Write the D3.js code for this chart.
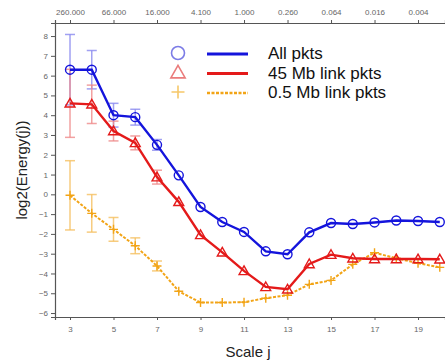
<!DOCTYPE html>
<html>
<head>
<meta charset="utf-8">
<script src="https://cdn.jsdelivr.net/npm/d3@7"></script>
<style>
  html, body { margin: 0; padding: 0; background: #fff; }
  svg { display: block; font-family: "Liberation Sans", Arial, sans-serif; }
</style>
</head>
<body>
<div id="chart"></div>
<script>
// scale index j and the three curves
const scales = [3, 4, 5, 6, 7, 8, 9, 10, 11, 12, 13, 14, 15, 16, 17, 18, 19, 20];
const allPkts = [6.3, 6.3, 4.0, 3.9, 2.5, 0.96, -0.64, -1.4, -1.9, -2.88, -3.03, -1.92, -1.45, -1.5, -1.42, -1.32, -1.35, -1.4];
const allErr = [1.78, 0.97, 0.6, 0.4, 0.27, 0, 0, 0, 0, 0, 0, 0, 0, 0, 0, 0, 0, 0];
const link45 = [4.6, 4.55, 3.2, 2.6, 0.87, -0.38, -2.05, -2.93, -3.87, -4.68, -4.8, -3.52, -3.05, -3.23, -3.27, -3.27, -3.27, -3.28];
const link45Err = [1.72, 0.97, 0.5, 0.35, 0.35, 0, 0, 0, 0, 0, 0, 0, 0, 0, 0, 0, 0, 0];
const link05 = [-0.05, -0.96, -1.77, -2.6, -3.62, -4.9, -5.47, -5.47, -5.45, -5.25, -5.1, -4.55, -4.35, -3.54, -2.95, -3.23, -3.48, -3.69];
const link05Err = [1.75, 0.95, 0.6, 0.4, 0.25, 0, 0, 0, 0, 0, 0, 0, 0, 0, 0, 0, 0, 0];

const bottomTicks = [3, 5, 7, 9, 11, 13, 15, 17, 19];
const topLabels = ["260.000", "66.000", "16.000", "4.100", "1.000", "0.260", "0.064", "0.016", "0.004"];
const yTicks = [-6, -5, -4, -3, -2, -1, 0, 1, 2, 3, 4, 5, 6, 7, 8];
const legendNames = ["All pkts", "45 Mb link pkts", "0.5 Mb link pkts"];

const width = 445, height = 362;
const plotLeft = 55, plotTop = 23, plotBottom = 317;

const svg = d3.select("#chart").append("svg")
  .attr("width", width)
  .attr("height", height);

const x = d3.scaleLinear().domain([2.31, 20.24]).range([plotLeft, width]);
const y = d3.scaleLinear().domain([-6.2, 8.66]).range([plotBottom, plotTop]);

const axisColor = "#555";

// axes
const gx = svg.append("g")
  .attr("transform", `translate(0,${plotBottom})`)
  .call(d3.axisBottom(x).tickValues(bottomTicks).tickSize(3).tickPadding(6).tickFormat(d3.format("d")));

const gxTop = svg.append("g")
  .attr("transform", `translate(0,${plotTop})`)
  .call(d3.axisTop(x).tickValues(bottomTicks).tickSize(3).tickPadding(5)
    .tickFormat((d, i) => topLabels[i]));

const gy = svg.append("g")
  .attr("transform", `translate(${plotLeft},0)`)
  .call(d3.axisLeft(y).tickValues(yTicks).tickSize(4).tickPadding(3).tickFormat(d3.format("d")));

[gx, gxTop, gy].forEach(g => {
  g.selectAll(".domain").attr("stroke", axisColor).attr("stroke-width", 1.2);
  g.selectAll(".tick line").attr("stroke", axisColor);
  g.selectAll(".tick text").attr("fill", "#666").style("font-size", "8px");
});

// axis titles
svg.append("text")
  .attr("x", 248).attr("y", 357)
  .attr("text-anchor", "middle")
  .style("font-size", "15px").attr("fill", "#222")
  .text("Scale j");

svg.append("text")
  .attr("transform", "translate(27,170) rotate(-90)")
  .attr("text-anchor", "middle")
  .style("font-size", "15px").attr("fill", "#222")
  .text("log2(Energy(j))");

const series = [
  { name: legendNames[0], vals: allPkts, err: allErr, color: "#1414dc", light: "#7c7ce6", errColor: "#8a8af0", marker: "circle", dash: null, lw: 2.4 },
  { name: legendNames[1], vals: link45, err: link45Err, color: "#e41a1a", light: "#ea7c7c", errColor: "#ef8a8a", marker: "triangle", dash: null, lw: 2.4 },
  { name: legendNames[2], vals: link05, err: link05Err, color: "#f2a416", light: "#f6c86a", errColor: "#f6c060", marker: "plus", dash: "3,1.5", lw: 2 }
];

const line = d3.line().x(d => x(d.j)).y(d => y(d.v));

function drawMarker(g, type, cx, cy, size, color, sw) {
  if (type === "circle") {
    g.append("circle").attr("cx", cx).attr("cy", cy).attr("r", size)
      .attr("fill", "none").attr("stroke", color).attr("stroke-width", sw);
  } else if (type === "triangle") {
    const s = size * 1.1;
    g.append("path")
      .attr("d", `M${cx},${cy - s}L${cx + s},${cy + s * 0.75}L${cx - s},${cy + s * 0.75}Z`)
      .attr("fill", "none").attr("stroke", color).attr("stroke-width", sw);
  } else {
    g.append("path")
      .attr("d", `M${cx - size},${cy}H${cx + size}M${cx},${cy - size}V${cy + size}`)
      .attr("fill", "none").attr("stroke", color).attr("stroke-width", sw);
  }
}

// error bars first, drawn lighter
series.forEach(s => {
  const g = svg.append("g");
  scales.forEach((j, i) => {
    const e = s.err[i];
    if (!e) return;
    const cx = x(j), y1 = y(s.vals[i] + e), y2 = y(s.vals[i] - e);
    g.append("line").attr("x1", cx).attr("x2", cx).attr("y1", y1).attr("y2", y2)
      .attr("stroke", s.errColor).attr("stroke-width", 1.5).attr("opacity", 0.8);
    [y1, y2].forEach(yy => g.append("line")
      .attr("x1", cx - 5).attr("x2", cx + 5).attr("y1", yy).attr("y2", yy)
      .attr("stroke", s.errColor).attr("stroke-width", 1.5).attr("opacity", 0.8));
  });
});

// lines and markers (orange drawn first so others sit on top)
[series[2], series[1], series[0]].forEach(s => {
  const pts = scales.map((j, i) => ({ j, v: s.vals[i] }));
  svg.append("path").datum(pts)
    .attr("d", line)
    .attr("fill", "none")
    .attr("stroke", s.color)
    .attr("stroke-width", s.lw)
    .attr("stroke-dasharray", s.dash);
  const g = svg.append("g");
  pts.forEach(p => drawMarker(g, s.marker, x(p.j), y(p.v), 4.5, s.color, 1.4));
});

// legend
const legend = svg.append("g");
series.forEach((s, i) => {
  const cy = 53 + i * 19.5;
  drawMarker(legend, s.marker, 178, cy, 6.5, s.light, 1.6);
  legend.append("line")
    .attr("x1", 207).attr("x2", 248).attr("y1", cy + 1).attr("y2", cy + 1)
    .attr("stroke", s.color).attr("stroke-width", s.lw + 0.4)
    .attr("stroke-dasharray", s.dash);
  legend.append("text")
    .attr("x", 268).attr("y", cy + 6)
    .style("font-size", "17px").attr("fill", "#111")
    .text(s.name);
});
</script>
</body>
</html>
